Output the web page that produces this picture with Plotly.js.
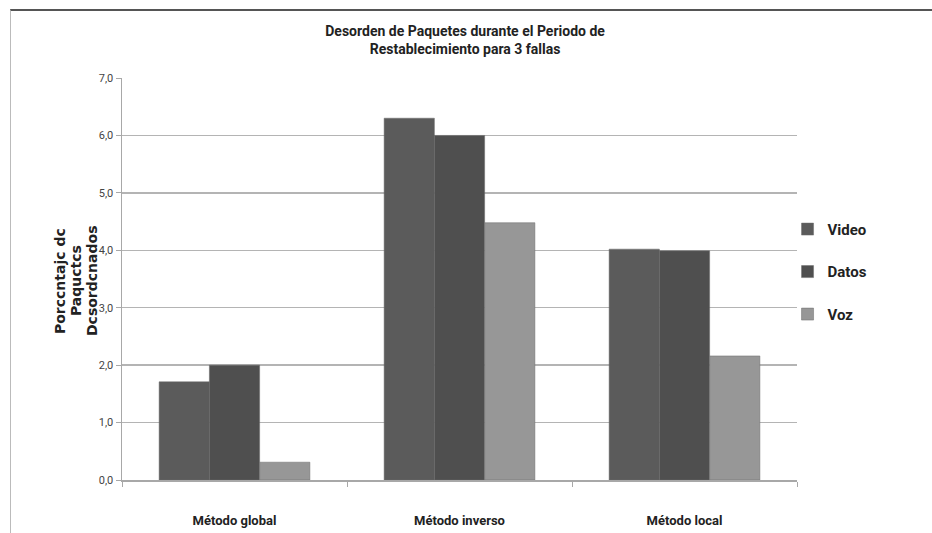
<!DOCTYPE html>
<html>
<head>
<meta charset="utf-8">
<script src="https://cdn.plot.ly/plotly-3.0.1.min.js"></script>
<style>
  html, body { margin: 0; padding: 0; background: #fff; }
  #wrap { position: relative; width: 932px; height: 533px; }
  #chart { width: 932px; height: 533px; }
  #frame { position: absolute; left: 10px; top: 9px; width: 922px; height: 524px;
           border-top: 2px solid #555; border-left: 1px solid #bbb; pointer-events: none; }
</style>
</head>
<body>
<div id="wrap">
  <div id="chart"></div>
  <div id="frame"></div>
</div>
<script>
const categories = ["Método global", "Método inverso", "Método local"];
const seriesNames = ["Video", "Datos", "Voz"];
const video = [1.71, 6.30, 4.02];
const datos = [2.00, 6.00, 3.99];
const voz = [0.31, 4.48, 2.16];
const yTicks = [0, 1, 2, 3, 4, 5, 6, 7];
const yTitleLines = ["Porccntajc dc", "Paquctcs", "Dcsordcnados"];

const colors = ["#5b5b5b", "#4f4f4f", "#979797"];
const narrow = "'Liberation Sans Narrow', 'Arial Narrow', 'Roboto', sans-serif";
const values = [video, datos, voz];

const traces = seriesNames.map((name, i) => ({
  type: "bar",
  name: name,
  x: categories,
  y: values[i],
  legendgroup: name,
  marker: { color: colors[i], line: { color: "#6a6a6a", width: 0.5 } }
}));

// y-axis title lines placed individually (tight line spacing like the original)
const L = 122, R = 797;
const linePx = [60, 76, 92];
const annotations = yTitleLines.map((t, i) => ({
  text: "<b>" + t + "</b>",
  xref: "paper", yref: "paper",
  x: (linePx[i] - L) / (R - L), y: 0.495,
  xanchor: "center", yanchor: "middle",
  textangle: -90, showarrow: false,
  font: { family: "'DejaVu Sans', Verdana, sans-serif", size: 14, color: "#222" }
}));

const layout = {
  width: 932,
  height: 533,
  paper_bgcolor: "#fff",
  plot_bgcolor: "#fff",
  margin: { l: L, r: 932 - R, t: 78, b: 53, autoexpand: false },
  separators: ",.",
  barmode: "group",
  bargap: 0.33,
  bargroupgap: 0,
  title: {
    text: "<b>Desorden de Paquetes durante el Periodo de<br>Restablecimiento para 3 fallas</b>",
    font: { family: narrow, size: 14, color: "#222" },
    x: 0.499, xref: "container", xanchor: "center",
    y: 0.932, yref: "container", yanchor: "middle"
  },
  xaxis: {
    type: "category",
    tickfont: { family: narrow, size: 13, color: "#222", weight: "bold" },
    showline: true, linecolor: "#a8a8a8", linewidth: 1.5,
    ticks: "outside", tickson: "boundaries", ticklen: 5, tickcolor: "#a8a8a8",
    ticklabelstandoff: 28,
    showgrid: false, zeroline: false
  },
  yaxis: {
    range: [0, 7],
    tickvals: yTicks,
    tickformat: ".1f",
    tickfont: { family: narrow, size: 11, color: "#444" },
    showline: true, linecolor: "#a8a8a8", linewidth: 1.5,
    ticks: "outside", ticklen: 5, tickcolor: "#a8a8a8",
    showgrid: true, gridcolor: "#b4b4b4", gridwidth: 1.5,
    zeroline: false
  },
  annotations: annotations,
  legend: {
    x: 0.845, xref: "container", xanchor: "left",
    y: 0.49, yref: "container", yanchor: "middle",
    font: { family: narrow, size: 15, color: "#222", weight: "bold" },
    traceorder: "grouped",
    tracegroupgap: 20,
    itemwidth: 30,
    bgcolor: "rgba(0,0,0,0)"
  },
  showlegend: true
};

Plotly.newPlot("chart", traces, layout, { displayModeBar: false, staticPlot: true });
</script>
</body>
</html>
